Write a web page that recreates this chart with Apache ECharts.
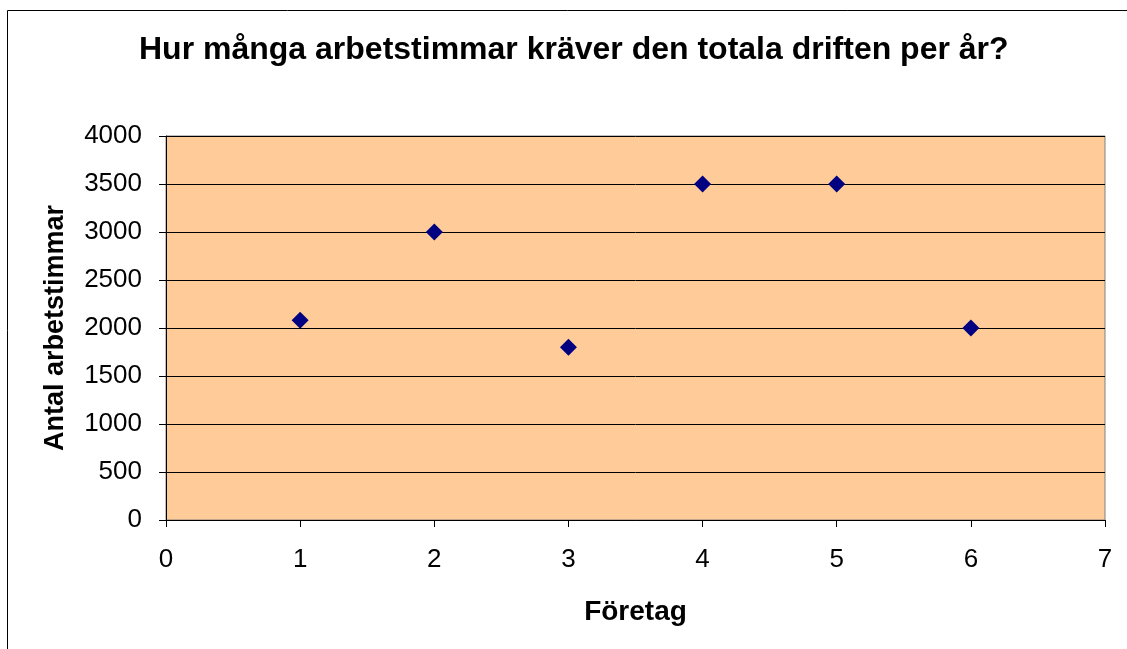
<!DOCTYPE html>
<html>
<head>
<meta charset="utf-8">
<script src="https://cdn.jsdelivr.net/npm/echarts@6/dist/echarts.min.js"></script>
<style>
html,body{margin:0;padding:0;background:#fff;}
#chart{width:1127px;height:649px;}
</style>
</head>
<body>
<div id="chart"></div>
<script>
//data
var foretag=[1,2,3,4,5,6];
var timmar=[2080,3000,1800,3500,3500,2000];

var myChart=echarts.init(document.getElementById('chart'));
var punkter=[];
for(var i=0;i<foretag.length;i++){
    punkter.push([foretag[i],timmar[i]]);
}

var option={
    backgroundColor:'#fff',
    animation:false,
    textStyle:{fontFamily:'Liberation Sans, Arial, sans-serif'},
    graphic:[{
        type:'rect',
        shape:{x:7.5,y:10.5,width:1130,height:650},
        style:{fill:'none',stroke:'#000',lineWidth:1},
        silent:true
    }],
    title:{
        text:'Hur många arbetstimmar kräver den totala driften per år?',
        left:139,
        top:34,
        padding:0,
        textStyle:{fontSize:32,fontWeight:'bold',color:'#000',fontFamily:'Liberation Sans, Arial, sans-serif'}
    },
    grid:{
        left:166,right:22,top:136,bottom:129,
        show:true,
        backgroundColor:'#FFCC99',
        borderColor:'#808080',
        borderWidth:1
    },
    xAxis:{
        type:'value',
        min:0,max:7,interval:1,
        name:'Företag',
        nameLocation:'middle',
        nameGap:78,
        nameTextStyle:{fontSize:28,fontWeight:'bold',color:'#000'},
        axisLine:{show:true,onZero:false,lineStyle:{color:'#000',width:1}},
        axisTick:{show:true,length:7,lineStyle:{color:'#000'}},
        axisLabel:{fontSize:26,color:'#000',margin:27},
        splitLine:{show:false}
    },
    yAxis:{
        type:'value',
        min:0,max:4000,interval:500,
        name:'Antal arbetstimmar',
        nameLocation:'middle',
        nameGap:97,
        nameTextStyle:{fontSize:27,fontWeight:'bold',color:'#000'},
        axisLine:{show:true,lineStyle:{color:'#000',width:1}},
        axisTick:{show:true,length:7,lineStyle:{color:'#000'}},
        axisLabel:{fontSize:26,color:'#000',margin:24,
            formatter:function(value){
                return String(value);
            }},
        splitLine:{show:true,lineStyle:{color:'#000',width:1}}
    },
    series:[{
        type:'scatter',
        symbol:'diamond',
        symbolSize:17,
        itemStyle:{color:'#000080',opacity:1},
        data:punkter
    }]
};
myChart.setOption(option);
</script>
</body>
</html>
